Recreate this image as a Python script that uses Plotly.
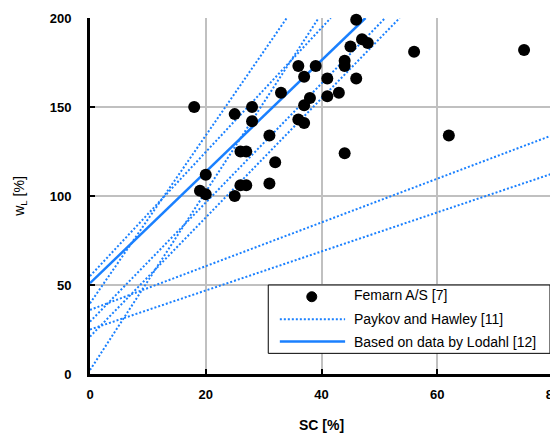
import plotly.graph_objects as go

# Femarn A/S [7] data points (SC %, wL %)
sc_pts = [18, 19, 20, 20, 25, 25, 26, 27, 26, 27, 28, 28, 31, 31, 32, 33, 36, 36, 37, 37,
          37, 38, 39, 41, 41, 43, 44, 44, 44, 45, 46, 46, 47, 48, 56, 62, 75]
wl_pts = [150, 103, 112, 101, 146, 100, 125, 125, 106, 106, 150, 142, 134, 107, 119, 158, 173, 143, 167, 151,
          141, 155, 173, 166, 156, 158, 176, 173, 124, 184, 199, 166, 188, 186, 181, 134, 182]

# Paykov and Hawley [11] lines: start / end points
pk_x0 = [0, 0, 0, 0, 0, 0, 0]
pk_y0 = [39.7, 55, 2.2, 29.4, 21, 36, 25]
pk_x1 = [34.0, 41.6, 39.5, 51.0, 53.5, 80, 80]
pk_y1 = [200, 200, 200, 200, 200, 134.3, 112.7]

# Based on data by Lodahl [12]
lod_x = [0, 47.6]
lod_y = [51, 200]

x_ticks = [0, 20, 40, 60, 80]
y_ticks = [0, 50, 100, 150, 200]

legend_labels = ["Femarn A/S [7]", "Paykov and Hawley [11]", "Based on data by Lodahl [12]"]

BLUE = "#1a80ff"
FONT = "Liberation Sans"
DOT = "2px,2px"

fig = go.Figure()

for i in range(len(pk_x0)):
    fig.add_trace(go.Scatter(
        x=[pk_x0[i], pk_x1[i]], y=[pk_y0[i], pk_y1[i]], mode="lines",
        line=dict(color=BLUE, width=2, dash=DOT),
        name=legend_labels[1], showlegend=False,
    ))

fig.add_trace(go.Scatter(
    x=lod_x, y=lod_y, mode="lines", line=dict(color=BLUE, width=2.5),
    name=legend_labels[2], showlegend=False,
))

fig.add_trace(go.Scatter(
    x=sc_pts, y=wl_pts, mode="markers",
    marker=dict(color="black", size=12),
    name=legend_labels[0], cliponaxis=False, showlegend=False,
))

# Hand-drawn legend (long line samples as in the reference)
shapes = [
    dict(type="rect", xref="paper", yref="paper", x0=0.385, x1=0.9935, y0=0.058, y1=0.25,
         line=dict(color="black", width=1), fillcolor="white", layer="above"),
    dict(type="circle", xref="paper", yref="paper", xsizemode="pixel", ysizemode="pixel",
         xanchor=0.479, yanchor=0.217, x0=-5, x1=5, y0=-5, y1=5,
         fillcolor="black", line=dict(color="black", width=1), layer="above"),
    dict(type="line", xref="paper", yref="paper", x0=0.410, x1=0.551, y0=0.1537, y1=0.1537,
         line=dict(color=BLUE, width=2, dash=DOT), layer="above"),
    dict(type="line", xref="paper", yref="paper", x0=0.410, x1=0.551, y0=0.0913, y1=0.0913,
         line=dict(color=BLUE, width=2.5), layer="above"),
]
leg_y = [0.222, 0.1537, 0.0907]
annotations = [
    dict(text=legend_labels[k], xref="paper", yref="paper", x=0.565, y=leg_y[k],
         xanchor="left", yanchor="middle", showarrow=False,
         font=dict(family=FONT, size=14, color="black"))
    for k in range(3)
]

fig.update_layout(
    width=558, height=434,
    margin=dict(l=82, r=13, t=10, b=68, autoexpand=False),
    plot_bgcolor="white", paper_bgcolor="white",
    font=dict(family=FONT, size=13, color="black"),
    showlegend=False,
    shapes=shapes, annotations=annotations,
)

fig.update_xaxes(
    range=[0, 80], tickvals=x_ticks, ticktext=[str(v) for v in x_ticks],
    showgrid=True, gridcolor="#c0c0c0", gridwidth=1.5,
    showline=True, linecolor="black", linewidth=3,
    ticks="inside", ticklen=5, tickwidth=2, tickcolor="black",
    tickfont=dict(size=13, weight="bold"), ticklabelstandoff=6,
    title=dict(text="SC [%]", font=dict(size=14, weight="bold"), standoff=20),
    zeroline=False, automargin=False,
)
fig.update_yaxes(
    range=[0, 200], tickvals=y_ticks, ticktext=[str(v) for v in y_ticks],
    showgrid=True, gridcolor="#c0c0c0", gridwidth=1.5,
    showline=True, linecolor="black", linewidth=3,
    ticks="inside", ticklen=5, tickwidth=2, tickcolor="black",
    tickfont=dict(size=13, weight="bold"), ticklabelstandoff=13,
    title=dict(text="w<sub>L</sub> [%]", font=dict(size=14), standoff=22),
    zeroline=False, automargin=False,
)

fig.write_html("out.html")
